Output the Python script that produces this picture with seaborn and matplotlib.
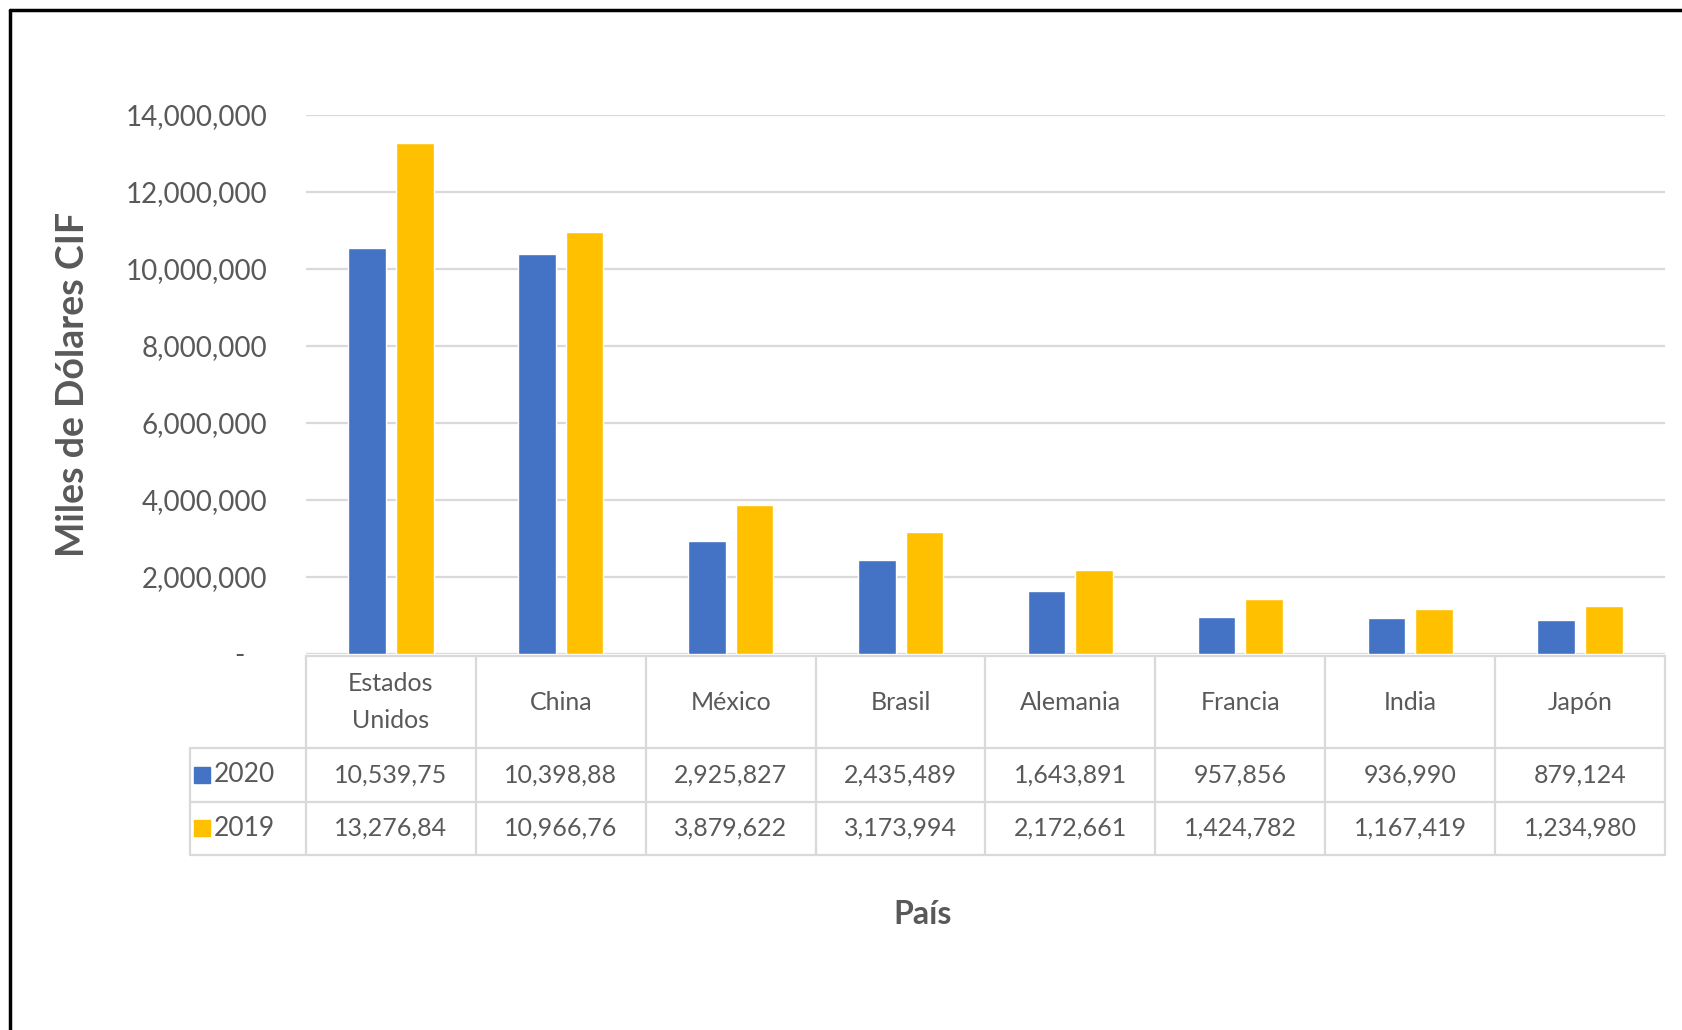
import matplotlib
matplotlib.use("Agg")
import matplotlib.pyplot as plt
import matplotlib.transforms as mtransforms
from matplotlib.lines import Line2D
from matplotlib.ticker import FuncFormatter
import pandas as pd
import seaborn as sns

# datos
paises = ["Estados\nUnidos", "China", "México", "Brasil", "Alemania", "Francia", "India", "Japón"]
anios = ["2020", "2019"]
valores_2020 = [10539750, 10398880, 2925827, 2435489, 1643891, 957856, 936990, 879124]
valores_2019 = [13276840, 10966760, 3879622, 3173994, 2172661, 1424782, 1167419, 1234980]
yticks = [0, 2000000, 4000000, 6000000, 8000000, 10000000, 12000000, 14000000]
colores = ["#4472C4", "#FFC000"]

df = pd.DataFrame({
    "pais": paises * 2,
    "anio": ["2020"] * len(paises) + ["2019"] * len(paises),
    "valor": valores_2020 + valores_2019,
})

sns.set_theme(style="white")
plt.rcParams["font.family"] = ["Lato", "DejaVu Sans"]
gris = "#595959"
linea = "#D9D9D9"

W, H = 1683, 1030
fig = plt.figure(figsize=(W / 100, H / 100), dpi=100)
ax = fig.add_axes([306 / W, 1 - 654 / H, (1665 - 306) / W, (654 - 115) / H])

sns.barplot(data=df, x="pais", y="valor", hue="anio", hue_order=anios,
            palette=colores, width=0.56, gap=0.21, saturation=1,
            errorbar=None, legend=False, ax=ax)

ax.set_xlim(-0.5, len(paises) - 0.5)
ax.set_ylim(0, 14000000)
ax.set_yticks(yticks)
ax.yaxis.set_major_formatter(FuncFormatter(lambda v, p: "-   " if v == 0 else f"{int(v):,}"))
ax.tick_params(axis="y", length=0, pad=28, labelsize=20, labelcolor=gris)
ax.set_xticks([])
ax.set_xlabel("")
ax.set_ylabel("")
ax.yaxis.grid(True, color=linea, lw=1.6)
ax.set_axisbelow(True)
for s in ax.spines.values():
    s.set_visible(False)

# tabla de datos
trans = mtransforms.blended_transform_factory(ax.transData, ax.transAxes)


def fy(px):
    return (654 - px) / 539


x_ley = -1.18
x_fin = len(paises) - 0.5
kw = dict(transform=trans, clip_on=False, color=linea, lw=1.6)
ax.add_line(Line2D([-0.5, x_fin], [fy(656), fy(656)], **kw))
for yy in [748, 802, 855]:
    ax.add_line(Line2D([x_ley, x_fin], [fy(yy), fy(yy)], **kw))
for k in range(len(paises) + 1):
    ax.add_line(Line2D([k - 0.5, k - 0.5], [fy(656), fy(855)], **kw))
ax.add_line(Line2D([x_ley, x_ley], [fy(748), fy(855)], **kw))

for i, p in enumerate(paises):
    ax.text(i, fy(702), p, ha="center", va="center", fontsize=18, color=gris,
            linespacing=1.7, transform=trans)
    ax.text(i, fy(775), f"{valores_2020[i]:,}"[:9], ha="center", va="center",
            fontsize=18, color=gris, transform=trans)
    ax.text(i, fy(828), f"{valores_2019[i]:,}"[:9], ha="center", va="center",
            fontsize=18, color=gris, transform=trans)

for anio, col, yy in zip(anios, colores, [775, 828]):
    ax.plot([-1.11], [fy(yy)], marker="s", markersize=11, color=col,
            transform=trans, clip_on=False)
    ax.text(-1.045, fy(yy), anio, ha="left", va="center", fontsize=19,
            color=gris, transform=trans)

fig.text(923 / W, 1 - 914 / H, "País", ha="center", va="center",
         fontsize=23, fontweight="bold", color=gris)
fig.text(73 / W, 1 - 384 / H, "Miles de Dólares CIF", ha="center", va="center",
         rotation=90, fontsize=27, fontweight="bold", color=gris)

# marco
fig.add_artist(Line2D([10 / W, 10 / W], [0, 1 - 10 / H], color="black", lw=2.5,
                      transform=fig.transFigure))
fig.add_artist(Line2D([10 / W, 1], [1 - 10 / H, 1 - 10 / H], color="black", lw=2.5,
                      transform=fig.transFigure))

fig.savefig("out.png", dpi=100)
